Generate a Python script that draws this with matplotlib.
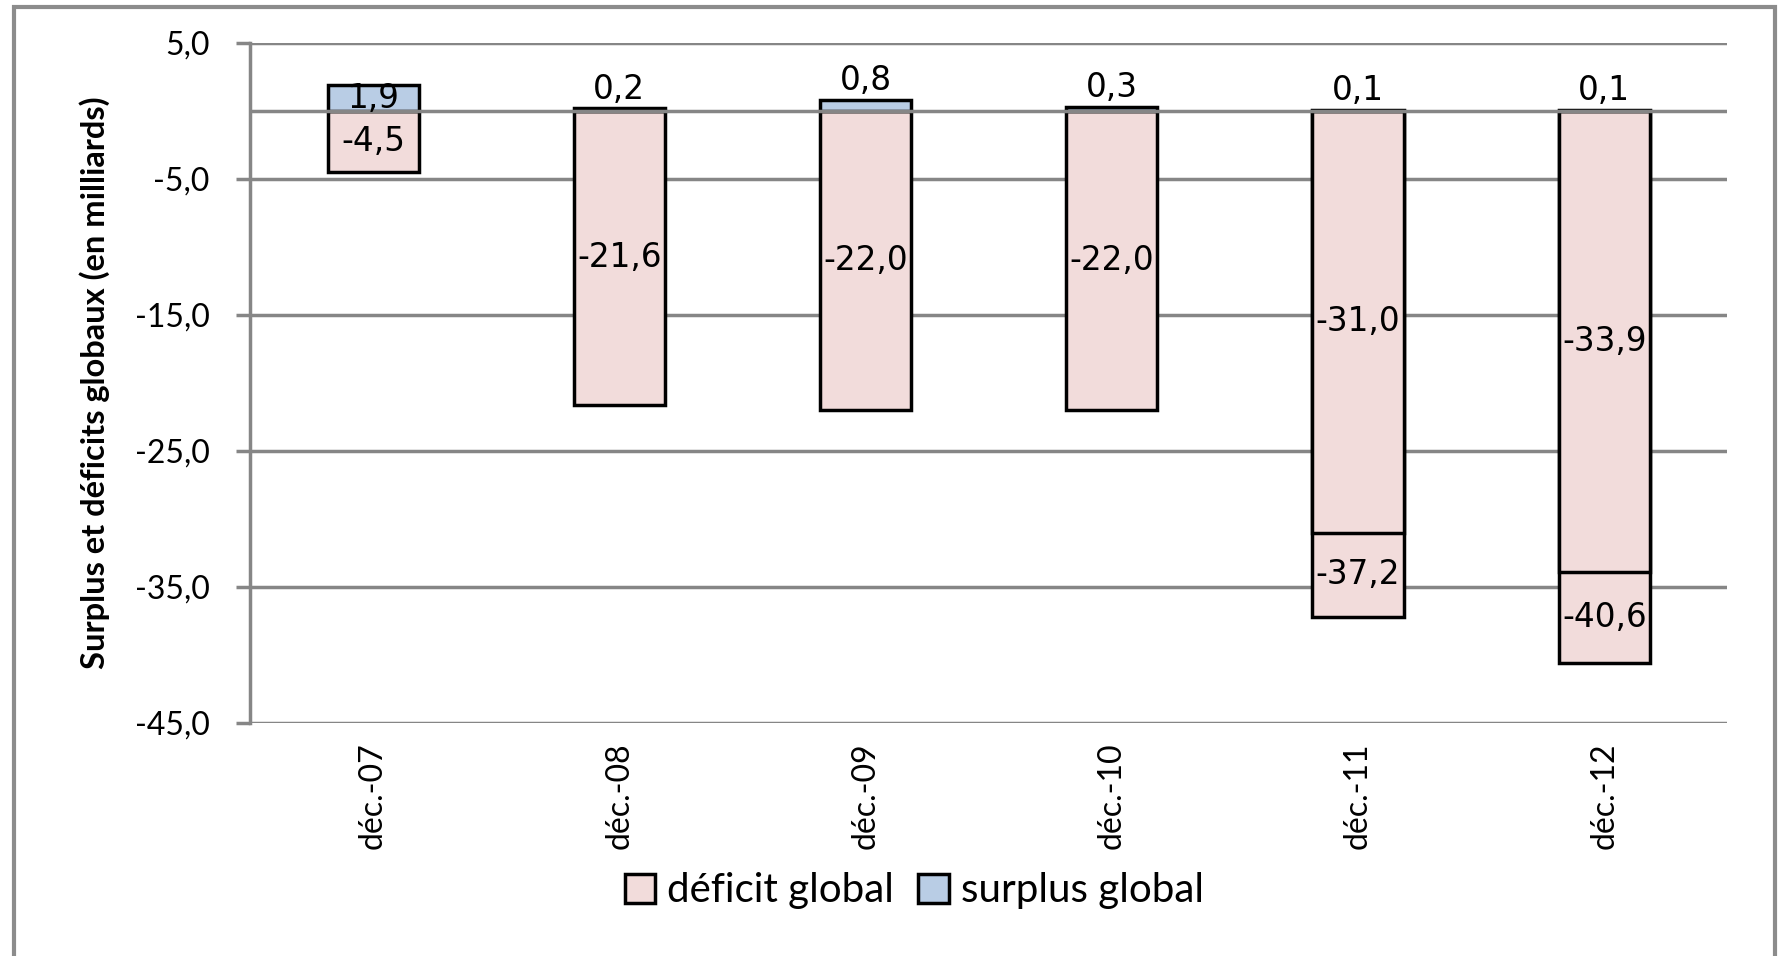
import matplotlib
matplotlib.use("Agg")
import matplotlib.pyplot as plt
import numpy as np
from matplotlib.patches import Rectangle, Patch

# données (en milliards)
categories = ["déc.-07", "déc.-08", "déc.-09", "déc.-10", "déc.-11", "déc.-12"]
deficit = [-4.5, -21.6, -22.0, -22.0, -31.0, -33.9]
deficit_total = [None, None, None, None, -37.2, -40.6]
surplus = [1.9, 0.2, 0.8, 0.3, 0.1, 0.1]
yticks = [5.0, -5.0, -15.0, -25.0, -35.0, -45.0]

PINK = "#F2DCDB"
BLUE = "#B9CDE5"
GRID = "#868686"
LBL = 23.5

def fr(v):
    return f"{v:.1f}".replace(".", ",")

fig = plt.figure(figsize=(17.79, 9.56), dpi=100)
ax = fig.add_axes([0.1405, 0.2437, 0.8305, 0.7113])

x = np.arange(len(categories))
w = 0.37

# barres longues (déficit cumulé) d'abord
for i, v in enumerate(deficit_total):
    if v is not None:
        ax.bar(x[i], v, w, color=PINK, edgecolor="black", linewidth=2.5, zorder=2)
        ax.text(x[i], (v + deficit[i]) / 2, fr(v), ha="center", va="center",
                fontsize=LBL, family="DejaVu Sans", zorder=5)

ax.bar(x, deficit, w, color=PINK, edgecolor="black", linewidth=2.5, zorder=3)
ax.bar(x, surplus, w, color=BLUE, edgecolor="black", linewidth=2.5, zorder=3)

for i in range(len(x)):
    ax.text(x[i], deficit[i] / 2, fr(deficit[i]), ha="center", va="center",
            fontsize=LBL, family="DejaVu Sans", zorder=5)
    s = surplus[i]
    if s > 1:
        ax.text(x[i], s / 2, fr(s), ha="center", va="center",
                fontsize=LBL, family="DejaVu Sans", zorder=5)
    else:
        ax.text(x[i], s + 0.2, fr(s), ha="center", va="bottom",
                fontsize=LBL, family="DejaVu Sans", zorder=5)

# axe horizontal à zéro, au-dessus des barres
ax.axhline(0, color=GRID, linewidth=2.5, zorder=4)

ax.set_xlim(-0.5, len(categories) - 0.5)
ax.set_ylim(-45, 5)
ax.set_yticks(yticks)
ax.set_yticklabels([fr(t) for t in yticks], fontsize=23, family="Lato")
ax.yaxis.grid(True, color=GRID, linewidth=2.5, zorder=0)
ax.set_axisbelow(True)
ax.set_xticks(x)
ax.set_xticklabels(categories, rotation=90, fontsize=23, family="Lato")
ax.tick_params(axis="y", length=10, width=2.5, color=GRID, pad=19)
ax.tick_params(axis="x", length=0, pad=14)

for side in ["top", "right", "bottom"]:
    ax.spines[side].set_visible(False)
ax.spines["left"].set_color(GRID)
ax.spines["left"].set_linewidth(2.5)

ax.set_ylabel("Surplus et déficits globaux (en milliards)", fontsize=23.5,
              fontweight="bold", family="Lato", labelpad=18)

handles = [Patch(facecolor=PINK, edgecolor="black", linewidth=2.5),
           Patch(facecolor=BLUE, edgecolor="black", linewidth=2.5)]
fig.legend(handles, ["déficit global", "surplus global"], loc="center",
           bbox_to_anchor=(0.514, 0.068), ncol=2, frameon=False,
           prop={"family": "Lato", "size": 29}, handlelength=0.75,
           handleheight=0.75, handletextpad=0.3, columnspacing=0.6)

# cadre du graphique
fig.patches.append(Rectangle((0.008, -0.05), 0.99, 1.043, transform=fig.transFigure,
                             fill=False, edgecolor="#8C8C8C", linewidth=3))

fig.savefig("out.png", dpi=100)
